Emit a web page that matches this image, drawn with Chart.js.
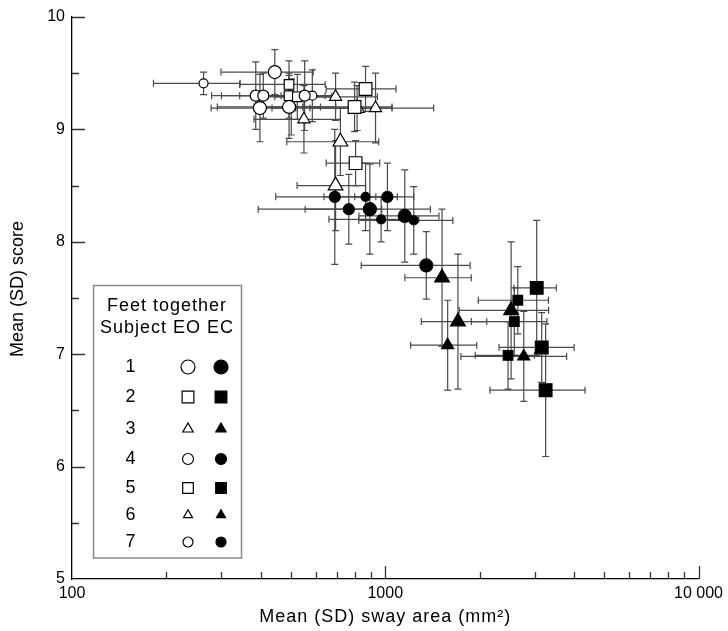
<!DOCTYPE html>
<html>
<head>
<meta charset="utf-8">
<script src="https://cdn.jsdelivr.net/npm/chart.js@4.4.1/dist/chart.umd.min.js"></script>
<style>
  html, body { margin: 0; padding: 0; background: #fff; }
</style>
</head>
<body>
<canvas id="chart" width="728" height="631"></canvas>
<script>
// Mean (SD) sway area vs mean (SD) score, feet together, eyes open / closed.
// Each row: [sway area mean, sway area SD, score mean, score SD]

const s1EO = [[444, 145, 9.51, 0.20], [493, 202, 9.20, 0.28], [398, 120, 9.19, 0.30]];
const s1EC = [[893, 500, 8.29, 0.40], [1154, 330, 8.23, 0.41], [1352, 514, 7.79, 0.30]];
const s2EO = [[865, 217, 9.36, 0.20], [798, 253, 9.20, 0.22], [804, 156, 8.70, 0.20]];
const s2EC = [[3044, 470, 7.59, 0.60], [3158, 850, 7.06, 0.31], [3250, 1091, 6.68, 0.59]];
const s3EO = [[813, 238, 9.19, 0.20], [719, 234, 8.89, 0.30], [694, 171, 8.50, 0.40]];
const s3EC = [[1518, 363, 7.68, 0.61], [1706, 403, 7.29, 0.60], [2522, 800, 7.39, 0.61]];
const s4EO = [[386, 107, 9.30, 0.30], [408, 108, 9.30, 0.20], [553, 130, 9.30, 0.31]];
const s4EC = [[690, 243, 8.40, 0.60], [765, 210, 8.29, 0.31], [1016, 217, 8.40, 0.30]];
const s5EO = [[493, 150, 9.40, 0.21], [493, 150, 9.30, 0.20], [524, 150, 9.29, 0.20]];
const s5EC = [[2649, 668, 7.48, 0.30], [2582, 700, 7.29, 0.30], [2466, 529, 6.99, 0.30]];
const s6EO = [[694, 250, 9.29, 0.21], [931, 496, 9.19, 0.31], [550, 169, 9.09, 0.30]];
const s6EC = [[1582, 377, 7.08, 0.40], [2768, 1025, 6.98, 0.40]];
const s7EO = [[263, 81, 9.41, 0.10], [501, 120, 9.20, 0.25], [585, 120, 9.30, 0.23]];
const s7EC = [[865, 228, 8.40, 0.30], [970, 309, 8.20, 0.20], [1233, 410, 8.19, 0.30]];

const subjects = ['1', '2', '3', '4', '5', '6', '7'];
const xTicks = [100, 1000, 10000];
const yTicks = [5, 6, 7, 8, 9, 10];

const FONT = "'Liberation Sans', Arial, sans-serif";
const BAR_COLOR = '#4a4a4a';
const CAP = 3.5;

// marker look per subject (style, radius in the plot, radius in the legend)
const MARKERS = [
    { style: 'circle', r: 6.5, lr: 7 },
    { style: 'rect', r: 9, lr: 8.3 },
    { style: 'triangle', r: 8.5, lr: 6 },
    { style: 'circle', r: 5.5, lr: 5.5 },
    { style: 'rect', r: 6.8, lr: 7.5 },
    { style: 'triangle', r: 7, lr: 5.2 },
    { style: 'circle', r: 4.5, lr: 5 },
];

function makeSet(label, rows, m, filled) {
    return {
        label: label,
        data: rows.map(r => ({ x: r[0], xsd: r[1], y: r[2], ysd: r[3] })),
        pointStyle: m.style,
        pointRadius: m.r,
        pointHoverRadius: m.r,
        backgroundColor: filled ? '#000' : '#fff',
        borderColor: '#000',
        borderWidth: 1.2,
    };
}

const eoSets = [s1EO, s2EO, s3EO, s4EO, s5EO, s6EO, s7EO];
const ecSets = [s1EC, s2EC, s3EC, s4EC, s5EC, s6EC, s7EC];
const datasets = [];
subjects.forEach((s, i) => {
    datasets.push(makeSet(s + ' EO', eoSets[i], MARKERS[i], false));
    datasets.push(makeSet(s + ' EC', ecSets[i], MARKERS[i], true));
});

// error bars in both directions, drawn under the markers
const errorBars = {
    id: 'errorBars',
    beforeDatasetsDraw(chart) {
        const { ctx, scales: { x, y } } = chart;
        ctx.save();
        ctx.strokeStyle = BAR_COLOR;
        ctx.lineWidth = 1.2;
        chart.data.datasets.forEach(ds => {
            ds.data.forEach(p => {
                const px = x.getPixelForValue(p.x);
                const py = y.getPixelForValue(p.y);
                const x0 = x.getPixelForValue(p.x - p.xsd);
                const x1 = x.getPixelForValue(p.x + p.xsd);
                const y0 = y.getPixelForValue(p.y - p.ysd);
                const y1 = y.getPixelForValue(p.y + p.ysd);
                ctx.beginPath();
                ctx.moveTo(x0, py); ctx.lineTo(x1, py);
                ctx.moveTo(x0, py - CAP); ctx.lineTo(x0, py + CAP);
                ctx.moveTo(x1, py - CAP); ctx.lineTo(x1, py + CAP);
                ctx.moveTo(px, y0); ctx.lineTo(px, y1);
                ctx.moveTo(px - CAP, y0); ctx.lineTo(px + CAP, y0);
                ctx.moveTo(px - CAP, y1); ctx.lineTo(px + CAP, y1);
                ctx.stroke();
            });
        });
        ctx.restore();
    }
};

// tick marks pointing into the plot, minor ones shorter; axis titles
const innerTicks = {
    id: 'innerTicks',
    afterDraw(chart) {
        const { ctx, chartArea: a, scales: { x, y } } = chart;
        ctx.save();
        ctx.strokeStyle = '#333';
        ctx.lineWidth = 1.3;
        ctx.beginPath();
        for (let v = 5.5; v <= 10; v += 0.5) {
            const py = Math.round(y.getPixelForValue(v)) + 0.5;
            const len = Number.isInteger(v) ? 13 : 7;
            ctx.moveTo(a.left, py); ctx.lineTo(a.left + len, py);
        }
        [100, 1000].forEach(dec => {
            for (let k = 2; k <= 10; k++) {
                const px = Math.round(x.getPixelForValue(k * dec)) + 0.5;
                const len = k === 10 ? 13 : 7;
                ctx.moveTo(px, a.bottom); ctx.lineTo(px, a.bottom - len);
            }
        });
        ctx.stroke();

        // titles, with the loose tracking of the original
        ctx.fillStyle = '#000';
        ctx.font = '18px ' + FONT;
        ctx.textAlign = 'center';
        ctx.textBaseline = 'middle';
        ctx.letterSpacing = '1px';
        ctx.fillText('Mean (SD) sway area (mm²)', (a.left + a.right) / 2, 617);
        ctx.letterSpacing = '0px';
        ctx.translate(18, 289);
        ctx.rotate(-Math.PI / 2);
        ctx.fillText('Mean (SD) score', 0, 0);
        ctx.restore();
    }
};

// boxed key: subject number, open (EO) and filled (EC) symbol
const keyBox = {
    id: 'keyBox',
    afterDraw(chart) {
        const ctx = chart.ctx;
        const rows = [367, 397, 429, 459, 488, 515, 542];
        ctx.save();
        ctx.strokeStyle = '#888';
        ctx.lineWidth = 1.5;
        ctx.strokeRect(93.5, 285.5, 148, 272.5);

        ctx.fillStyle = '#000';
        ctx.font = '18px ' + FONT;
        ctx.letterSpacing = '1px';
        ctx.textAlign = 'center';
        ctx.textBaseline = 'middle';
        ctx.fillText('Feet together', 167, 306);
        ctx.fillText('Subject EO EC', 167, 328);
        subjects.forEach((s, i) => {
            const yy = rows[i];
            ctx.fillStyle = '#000';
            ctx.fillText(s, 131, yy);
            const m = MARKERS[i];
            ctx.lineWidth = 1.2;
            ctx.strokeStyle = '#000';
            ctx.fillStyle = '#fff';
            Chart.helpers.drawPoint(ctx, { pointStyle: m.style, radius: m.lr, borderWidth: 1.2 }, 188, yy);
            ctx.fillStyle = '#000';
            Chart.helpers.drawPoint(ctx, { pointStyle: m.style, radius: m.lr, borderWidth: 1.2 }, 221, yy);
        });
        ctx.restore();
    }
};

new Chart(document.getElementById('chart'), {
    type: 'scatter',
    data: { datasets: datasets },
    options: {
        responsive: false,
        animation: false,
        events: [],
        devicePixelRatio: 1,
        layout: { padding: { top: 17, right: 27.5, bottom: 0, left: 0 } },
        plugins: {
            legend: { display: false },
            tooltip: { enabled: false },
        },
        scales: {
            x: {
                type: 'logarithmic',
                min: 100,
                max: 10000,
                afterBuildTicks: s => { s.ticks = xTicks.map(v => ({ value: v })); },
                afterFit: s => { s.height = 52; },
                grid: { display: false, drawTicks: false },
                border: { display: true, color: '#000', width: 1.3 },
                ticks: {
                    autoSkip: false,
                    maxRotation: 0,
                    padding: 5,
                    color: '#000',
                    font: { family: FONT, size: 16 },
                    callback: v => (v === 10000 ? '10 000' : String(v)),
                },
            },
            y: {
                min: 5,
                max: 10,
                afterBuildTicks: s => { s.ticks = yTicks.map(v => ({ value: v })); },
                afterFit: s => { s.width = 72; },
                grid: { display: false, drawTicks: false },
                border: { display: true, color: '#000', width: 1.3 },
                ticks: {
                    padding: 7,
                    color: '#000',
                    font: { family: FONT, size: 16 },
                },
            },
        },
    },
    plugins: [errorBars, innerTicks, keyBox],
});
</script>
</body>
</html>
